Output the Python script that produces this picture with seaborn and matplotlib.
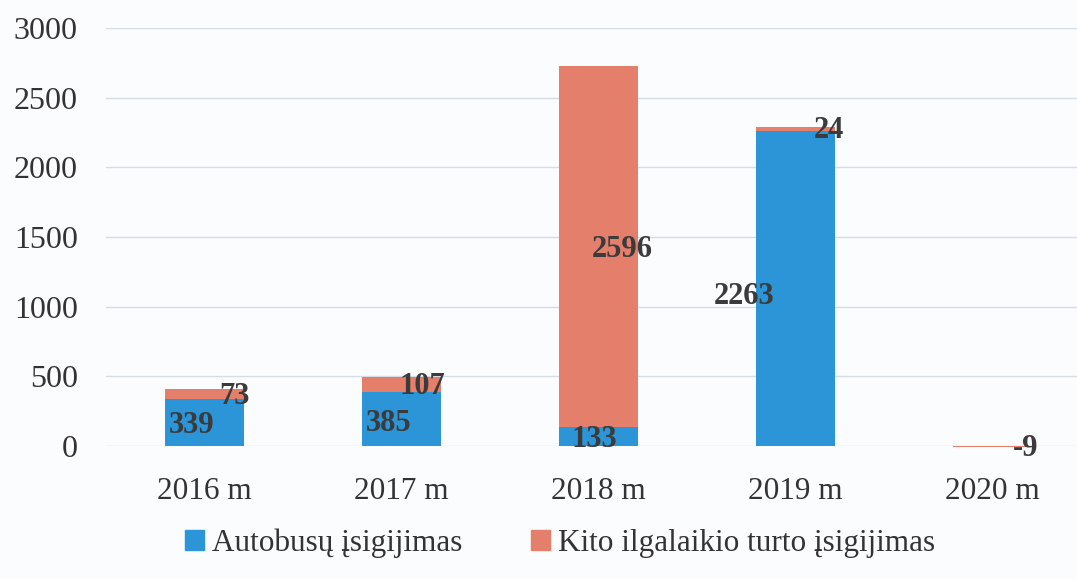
# -*- coding: utf-8 -*-
"""Autobusų ir kito ilgalaikio turto įsigijimas 2016-2020 m."""
import matplotlib.pyplot as plt
import pandas as pd
import seaborn as sns
from matplotlib.patches import Patch

metai = ["2016 m", "2017 m", "2018 m", "2019 m", "2020 m"]
autobusai = [339, 385, 133, 2263, 0]
kitas_turtas = [73, 107, 2596, 24, -9]

MELYNA = "#2b95d8"
RAUSVA = "#e47f6b"
TEKSTAS = "#3b3b3b"

sns.set_style("white")
plt.rcParams["font.family"] = ["Liberation Serif", "DejaVu Serif"]

df = pd.DataFrame({"metai": metai, "autobusai": autobusai, "kitas": kitas_turtas})
df["viso"] = df["autobusai"] + df["kitas"]

fig = plt.figure(figsize=(10.77, 5.79), dpi=100, facecolor="#fbfcfd")
ax = fig.add_axes([0.098, 0.2297, 0.915, 0.722])
ax.set_facecolor("#fbfcfd")

# sumines juostos (rausvos), ant virsaus - autobusai (melynos)
sns.barplot(data=df, x="metai", y="viso", color=RAUSVA, width=0.4,
            saturation=1, ax=ax, zorder=2)
sns.barplot(data=df, x="metai", y="autobusai", color=MELYNA, width=0.4,
            saturation=1, ax=ax, zorder=3)
for p in ax.patches:
    p.set_clip_on(False)
    p.set_linewidth(0)

ax.set_xlim(-0.5, 4.5)
ax.set_ylim(0, 3000)
ax.set_yticks(range(0, 3001, 500))
ax.yaxis.grid(True, color="#d6dce4", linewidth=1)
ax.set_axisbelow(True)
sns.despine(ax=ax, left=True, bottom=True)
ax.set_xlabel("")
ax.set_ylabel("")
ax.tick_params(axis="y", labelsize=23, pad=20, length=0, labelcolor="#333333")
ax.tick_params(axis="x", labelsize=22.5, pad=22, length=0, labelcolor="#333333")

# reiksmiu etiketes (poslinkis taskais, kaip originale)
poslinkis_a = [(-9, -2), (-9, -3), (-3, -2), (-37, -6), (0, 0)]
poslinkis_k = [(22, -2), (15, -1), (17, -2), (24, -1), (24, -1)]
for i in range(len(metai)):
    a = df["autobusai"][i]
    k = df["kitas"][i]
    if a != 0:
        ax.annotate(str(a), (i, a / 2), xytext=poslinkis_a[i],
                    textcoords="offset points", ha="center", va="center",
                    fontsize=22, fontweight="bold", color=TEKSTAS, zorder=5)
    ax.annotate(str(k), (i, a + k / 2), xytext=poslinkis_k[i],
                textcoords="offset points", ha="center", va="center",
                fontsize=22, fontweight="bold", color=TEKSTAS, zorder=5,
                annotation_clip=False)

rankenos = [Patch(color=MELYNA, label="Autobusų įsigijimas"),
            Patch(color=RAUSVA, label="Kito ilgalaikio turto įsigijimas")]
fig.legend(handles=rankenos, loc="center", bbox_to_anchor=(0.52, 0.062),
           ncol=2, frameon=False, fontsize=22.5, handlelength=0.6,
           handleheight=0.6, handletextpad=0.25, columnspacing=2.2,
           labelcolor="#333333")

fig.savefig("out.png", dpi=100, facecolor=fig.get_facecolor())
